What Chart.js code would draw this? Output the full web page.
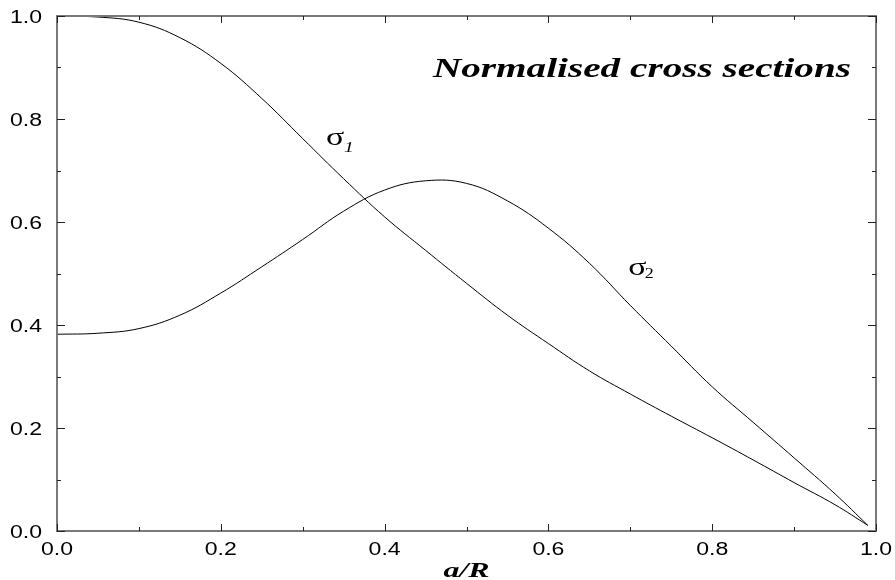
<!DOCTYPE html>
<html>
<head>
<meta charset="utf-8">
<script src="https://cdn.jsdelivr.net/npm/chart.js@4.4.1/dist/chart.umd.min.js"></script>
<style>
  html, body { margin: 0; padding: 0; background: #fff; }
  #wrap { width: 895px; height: 580px; }
</style>
</head>
<body>
<div id="wrap"><canvas id="cs" width="895" height="580"></canvas></div>
<script>
// a/R positions and the two normalised cross sections
const aOverR = [0, 0.05, 0.10, 0.15, 0.20, 0.25, 0.30, 0.35, 0.40, 0.45, 0.50,
                0.55, 0.60, 0.65, 0.70, 0.75, 0.80, 0.85, 0.90, 0.95, 0.99];
const sigma1 = [1.000, 0.998, 0.988, 0.958, 0.908, 0.840, 0.762, 0.684, 0.610, 0.545, 0.481,
                0.419, 0.364, 0.311, 0.266, 0.223, 0.181, 0.138, 0.094, 0.051, 0.011];
const sigma2 = [0.382, 0.384, 0.393, 0.419, 0.462, 0.513, 0.566, 0.621, 0.662, 0.680, 0.675,
                0.641, 0.588, 0.520, 0.438, 0.359, 0.280, 0.211, 0.142, 0.072, 0.011];
const tickValues = [0, 0.2, 0.4, 0.6, 0.8, 1.0];
const titleText = 'Normalised cross sections';
const xTitle = 'a/R';

const serif = "'Liberation Serif', 'DejaVu Serif', serif";
const sans = "'Liberation Sans', Arial, sans-serif";

function pts(ys) {
  return aOverR.map((x, i) => ({ x, y: ys[i] }));
}

// draw text stretched horizontally into a given width
function fitText(ctx, text, font, left, width, baseline) {
  ctx.save();
  ctx.font = font;
  const w = ctx.measureText(text).width;
  ctx.translate(left, baseline);
  ctx.scale(width / w, 1);
  ctx.textAlign = 'left';
  ctx.textBaseline = 'alphabetic';
  ctx.fillText(text, 0, 0);
  ctx.restore();
}

function stretchText(ctx, text, font, cx, baseline, sx, align) {
  ctx.save();
  ctx.font = font;
  const w = ctx.measureText(text).width * sx;
  let left = cx;
  if (align === 'center') left = cx - w / 2;
  if (align === 'right') left = cx - w;
  ctx.translate(left, baseline);
  ctx.scale(sx, 1);
  ctx.textAlign = 'left';
  ctx.textBaseline = 'alphabetic';
  ctx.fillText(text, 0, 0);
  ctx.restore();
}

const framePlugin = {
  id: 'frame',
  afterDraw(chart) {
    const ctx = chart.ctx;
    const a = chart.chartArea;
    const xs = chart.scales.x, ys = chart.scales.y;

    // box
    ctx.save();
    ctx.strokeStyle = '#7a7a7a';
    ctx.lineWidth = 2;
    ctx.strokeRect(a.left, a.top, a.right - a.left, a.bottom - a.top);

    // inward ticks, every 0.1, longer on 0.2
    ctx.strokeStyle = '#222';
    ctx.lineWidth = 1;
    ctx.beginPath();
    xs.ticks.forEach(t => {
      const major = Math.round(t.value * 10) % 2 === 0;
      const len = major ? 7 : 4;
      const px = Math.round(xs.getPixelForValue(t.value)) + 0.5;
      ctx.moveTo(px, a.bottom); ctx.lineTo(px, a.bottom - len);
      ctx.moveTo(px, a.top); ctx.lineTo(px, a.top + len);
    });
    ys.ticks.forEach(t => {
      const major = Math.round(t.value * 10) % 2 === 0;
      const len = major ? 8 : 4;
      const py = Math.round(ys.getPixelForValue(t.value)) + 0.5;
      ctx.moveTo(a.left, py); ctx.lineTo(a.left + len, py);
      ctx.moveTo(a.right, py); ctx.lineTo(a.right - len, py);
    });
    ctx.stroke();

    // tick labels
    ctx.fillStyle = '#000';
    tickValues.forEach(v => {
      const lab = v.toFixed(1);
      stretchText(ctx, lab, '18px ' + sans, xs.getPixelForValue(v), a.bottom + 24, 1.28, 'center');
      stretchText(ctx, lab, '18px ' + sans, a.left - 15, ys.getPixelForValue(v) + 7, 1.28, 'right');
    });

    // axis title
    stretchText(ctx, xTitle, 'bold italic 22px ' + serif, (a.left + a.right) / 2, 577, 1.45, 'center');

    // in-plot title
    fitText(ctx, titleText, 'bold italic 28px ' + serif,
      xs.getPixelForValue(0.459), xs.getPixelForValue(0.9695) - xs.getPixelForValue(0.459),
      ys.getPixelForValue(0.882));

    // curve labels
    stretchText(ctx, '\u03c3', '26px ' + serif, xs.getPixelForValue(0.3285), ys.getPixelForValue(0.7495), 1.3, 'left');
    stretchText(ctx, '1', 'italic 15px ' + serif, xs.getPixelForValue(0.3505), ys.getPixelForValue(0.7355), 1.3, 'left');
    stretchText(ctx, '\u03c3', '26px ' + serif, xs.getPixelForValue(0.6975), ys.getPixelForValue(0.498), 1.3, 'left');
    stretchText(ctx, '2', '15px ' + serif, xs.getPixelForValue(0.7175), ys.getPixelForValue(0.4915), 1.2, 'left');
    ctx.restore();
  }
};

new Chart(document.getElementById('cs'), {
  type: 'line',
  data: {
    datasets: [
      { label: 'sigma1', data: pts(sigma1), borderColor: '#000', borderWidth: 1,
        pointRadius: 0, fill: false, tension: 0.4 },
      { label: 'sigma2', data: pts(sigma2), borderColor: '#000', borderWidth: 1,
        pointRadius: 0, fill: false, tension: 0.4 }
    ]
  },
  options: {
    responsive: false,
    animation: false,
    layout: { padding: { left: 57, top: 16, right: 19, bottom: 49 } },
    plugins: { legend: { display: false }, tooltip: { enabled: false } },
    scales: {
      x: {
        type: 'linear', min: 0, max: 1,
        ticks: { display: false, stepSize: 0.1 },
        grid: { display: false, drawTicks: false },
        border: { display: false }
      },
      y: {
        type: 'linear', min: 0, max: 1,
        ticks: { display: false, stepSize: 0.1 },
        grid: { display: false, drawTicks: false },
        border: { display: false }
      }
    }
  },
  plugins: [framePlugin]
});
</script>
</body>
</html>
